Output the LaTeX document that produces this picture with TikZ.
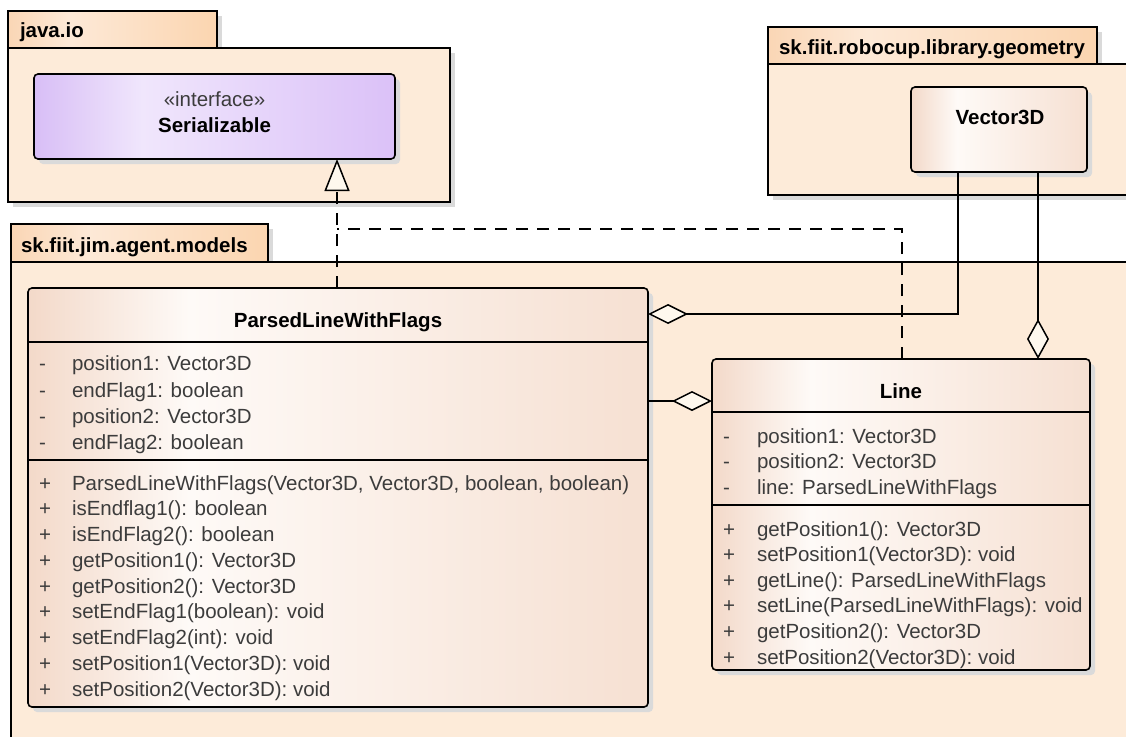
\documentclass[tikz,border=0pt]{standalone}
\usepackage{fontspec}
\setmainfont{Liberation Sans}
\usetikzlibrary{arrows.meta,shadows}
\definecolor{pkgbodyc}{HTML}{FDEBD9}
\definecolor{tabL}{HTML}{FAD6B5}
\definecolor{tabM}{HTML}{FDE9D7}
\definecolor{tabR}{HTML}{FBD5B0}
\definecolor{clsL}{HTML}{F3D9C9}
\definecolor{clsM}{HTML}{FEFAF7}
\definecolor{clsR}{HTML}{F6E0D2}
\definecolor{ifL}{HTML}{D8BEF6}
\definecolor{ifM}{HTML}{F0E6FC}
\definecolor{ifR}{HTML}{DBC1F8}
\definecolor{shadowc}{HTML}{DADADA}
\definecolor{txtc}{HTML}{3C3C3C}
\definecolor{tipc}{HTML}{FEF8EE}
\pgfdeclarehorizontalshading{tabshade}{100bp}{color(0bp)=(tabL); color(25bp)=(tabL); color(40bp)=(tabM); color(75bp)=(tabR); color(100bp)=(tabR)}
\pgfdeclarehorizontalshading{clsshade}{100bp}{color(0bp)=(clsL); color(25bp)=(clsL); color(38bp)=(clsM); color(75bp)=(clsR); color(100bp)=(clsR)}
\pgfdeclarehorizontalshading{ifshade}{100bp}{color(0bp)=(ifL); color(25bp)=(ifL); color(40bp)=(ifM); color(75bp)=(ifR); color(100bp)=(ifR)}
\newcommand\umlfont{\fontsize{20.5}{24}\selectfont}
\begin{document}
\begin{tikzpicture}[x=1pt,y=-1pt,
  every node/.style={inner sep=0pt, outer sep=0pt},
  shad/.style={drop shadow={shadow xshift=5pt,shadow yshift=-5pt,fill=shadowc,opacity=1}},
  pkgtab/.style={draw, line width=1.6pt, rectangle, shading=tabshade, anchor=north west, shad},
  pkgbody/.style={draw, line width=1.6pt, rectangle, fill=pkgbodyc, anchor=north west, shad},
  clsbox/.style={draw, line width=1.6pt, rectangle, rounded corners=4pt, shading=clsshade, anchor=north west, shad},
  ifbox/.style={draw, line width=1.6pt, rectangle, rounded corners=4pt, shading=ifshade, anchor=north west, shad},
  tabtext/.style={anchor=base west, font=\umlfont\bfseries},
  clstitle/.style={anchor=base, font=\umlfont\bfseries},
  clsmember/.style={anchor=base west, font=\umlfont, text=txtc},
  divider/.style={line width=1.4pt},
  conn/.style={line width=1.5pt},
  dep/.style={line width=1.5pt, dash pattern=on 12pt off 9pt},
  agg/.style={-{Diamond[length=40pt,width=20pt,fill=tipc]}},
  aggv/.style={-{Diamond[length=40pt,width=22pt,fill=tipc]}},
  realz/.style={-{Triangle[length=32pt,width=25pt,fill=tipc]}}
]
\useasboundingbox (0,0) rectangle (1126,736);
\fill[white] (0,0) rectangle (1126,736);
\clip (0,0) rectangle (1126,736);

% java.io package
\node[pkgtab, minimum width=209pt, minimum height=37pt] (jtab) at (8,11) {};
\node[pkgbody, minimum width=442pt, minimum height=154pt] (jbody) at (8,48) {};
\node[tabtext] (jtabt) at (20,37) {java.io};
\node[ifbox, minimum width=361pt, minimum height=85pt] (ser) at (34,74) {};
\node[anchor=base, font=\umlfont, text=txtc] (serst) at (214.5,106) {«interface»};
\node[clstitle] (sert) at (214.5,132) {Serializable};

% robocup package
\node[pkgtab, minimum width=329pt, minimum height=37pt] (rtab) at (768,27) {};
\node[pkgbody, minimum width=400pt, minimum height=131pt] (rbody) at (768,64) {};
\node[tabtext] (rtabt) at (779,54) {sk.fiit.robocup.library.geometry};
\node[clsbox, minimum width=176pt, minimum height=85pt] (v3d) at (911,87) {};
\node[clstitle] (v3dt) at (1000,124) {Vector3D};

% models package
\node[pkgtab, minimum width=257pt, minimum height=38pt] (mtab) at (11,224) {};
\node[pkgbody, minimum width=1150pt, minimum height=500pt] (mbody) at (11,262) {};
\node[tabtext] (mtabt) at (21,252) {sk.fiit.jim.agent.models};

% ParsedLineWithFlags
\node[clsbox, minimum width=620pt, minimum height=419pt] (plwf) at (28,288) {};
\draw[divider] ([yshift=-54pt]plwf.north west) -- ([yshift=-54pt]plwf.north east);
\draw[divider] ([yshift=-172pt]plwf.north west) -- ([yshift=-172pt]plwf.north east);
\node[clstitle] (plwft) at (338,327) {ParsedLineWithFlags};
\foreach \t/\yy [count=\i] in {{position1: Vector3D}/370, {endFlag1: boolean}/397, {position2: Vector3D}/423, {endFlag2: boolean}/449} {
  \node[clsmember] (pa\i) at (72,\yy) {\t};
  \node[clsmember] (pas\i) at (39,\yy) {-};
}
\foreach \t [count=\i from 0] in {{ParsedLineWithFlags(Vector3D, Vector3D, boolean, boolean)}, {isEndflag1(): boolean}, {isEndFlag2(): boolean}, {getPosition1(): Vector3D}, {getPosition2(): Vector3D}, {setEndFlag1(boolean): void}, {setEndFlag2(int): void}, {setPosition1(Vector3D): void}, {setPosition2(Vector3D): void}} {
  \node[clsmember] (pm\i) at (72,{490+\i*25.75}) {\t};
  \node[clsmember] (pms\i) at (39,{490+\i*25.75}) {+};
}

% Line
\node[clsbox, minimum width=378pt, minimum height=311pt] (line) at (712,359) {};
\draw[divider] ([yshift=-53pt]line.north west) -- ([yshift=-53pt]line.north east);
\draw[divider] ([yshift=-146pt]line.north west) -- ([yshift=-146pt]line.north east);
\node[clstitle] (linet) at (901,398) {Line};
\foreach \t [count=\i from 0] in {{position1: Vector3D}, {position2: Vector3D}, {line: ParsedLineWithFlags}} {
  \node[clsmember] (la\i) at (757,{443+\i*25.5}) {\t};
  \node[clsmember] (las\i) at (723,{443+\i*25.5}) {-};
}
\foreach \t [count=\i from 0] in {{getPosition1(): Vector3D}, {setPosition1(Vector3D): void}, {getLine(): ParsedLineWithFlags}, {setLine(ParsedLineWithFlags): void}, {getPosition2(): Vector3D}, {setPosition2(Vector3D): void}} {
  \node[clsmember] (lm\i) at (757,{536+\i*25.6}) {\t};
  \node[clsmember] (lms\i) at (723,{536+\i*25.6}) {+};
}

% connectors
\coordinate (genjoin) at (337,229);
\draw[dep, realz] (plwf.north -| genjoin) -- (ser.south -| genjoin);
\draw[dep] ([xshift=1pt]line.north) |- (genjoin);
\draw[conn, agg] ([xshift=-41pt]v3d.south) |- ([yshift=-26pt]plwf.north east);
\draw[conn, aggv] ([xshift=39pt]v3d.south) -- ([xshift=39pt]v3d.south |- line.north);
\draw[conn, agg] ([yshift=-113pt]plwf.north east) -- ([yshift=-113pt]plwf.north east -| line.west);
\end{tikzpicture}
\end{document}
